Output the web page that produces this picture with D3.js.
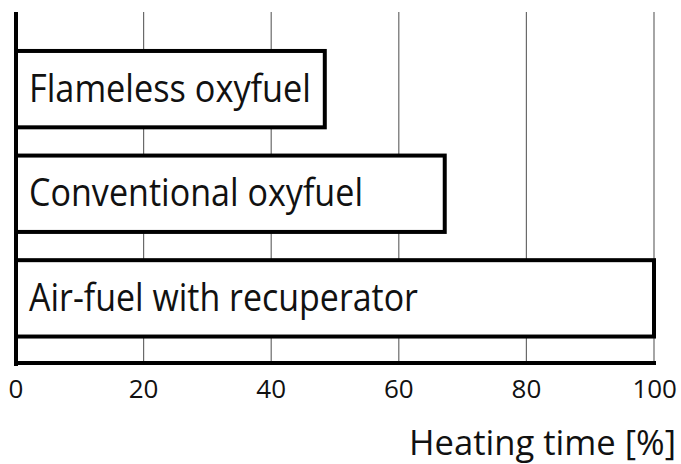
<!DOCTYPE html>
<html><head><meta charset="utf-8">
<script src="https://cdn.jsdelivr.net/npm/d3@7"></script>
<style>html,body{margin:0;padding:0;background:#fff;}svg{display:block;}</style>
</head><body>
<svg id="chart" width="681" height="464"></svg>
<script>
const categories = ["Flameless oxyfuel", "Conventional oxyfuel", "Air-fuel with recuperator"];
const values = [48.4, 67.2, 100];
const tickValues = [0, 20, 40, 60, 80, 100];
const tickLabels = ["0", "20", "40", "60", "80", "100"];
const axisTitle = "Heating time [%]";
const labelWidths = [282, 334, 389];

(function () {
const svg = d3.select("#chart");
const font = "'Open Sans', sans-serif";
const x = d3.scaleLinear().domain([0, 100]).range([16, 654]);
const y = d3.scaleBand().domain(categories).range([24.5, 363]).paddingInner(0.27).paddingOuter(0.253);
const yTop = 12, base = 363;

// gridlines
svg.append("g").selectAll("line").data(tickValues.slice(1)).join("line")
  .attr("x1", d => x(d)).attr("x2", d => x(d))
  .attr("y1", yTop).attr("y2", base)
  .attr("stroke", "#6a6a6a").attr("stroke-width", 1.2);

// bars
svg.append("g").selectAll("rect").data(categories).join("rect")
  .attr("x", x(0)).attr("y", d => y(d))
  .attr("width", (d, i) => x(values[i]) - x(0))
  .attr("height", y.bandwidth())
  .attr("fill", "#fff").attr("stroke", "#000").attr("stroke-width", 4);

// bar labels
svg.append("g").selectAll("text").data(categories).join("text")
  .attr("x", 29).attr("y", d => y(d) + y.bandwidth() / 2 + 12.5)
  .attr("font-family", font).attr("font-size", 38).attr("fill", "#111")
  .attr("textLength", (d, i) => labelWidths[i]).attr("lengthAdjust", "spacingAndGlyphs")
  .text(d => d);

// axes lines
svg.append("line").attr("x1", x(0)).attr("x2", x(0)).attr("y1", yTop).attr("y2", base + 3)
  .attr("stroke", "#000").attr("stroke-width", 4);
svg.append("line").attr("x1", x(0) - 2).attr("x2", x(100) + 2).attr("y1", base).attr("y2", base)
  .attr("stroke", "#000").attr("stroke-width", 4);

// tick labels
svg.append("g").selectAll("text").data(tickValues).join("text")
  .attr("x", d => x(d)).attr("y", 398)
  .attr("text-anchor", (d, i) => i === tickValues.length - 1 ? "end" : "middle")
  .attr("dx", (d, i) => i === tickValues.length - 1 ? 23 : 0)
  .attr("font-family", font).attr("font-size", 26).attr("fill", "#111")
  .text((d, i) => tickLabels[i]);

// axis title
svg.append("text").attr("x", 409).attr("y", 455)
  .attr("font-family", font).attr("font-size", 34).attr("fill", "#111")
  .attr("textLength", 267).attr("lengthAdjust", "spacingAndGlyphs")
  .text(axisTitle);
})();
</script>
</body></html>
